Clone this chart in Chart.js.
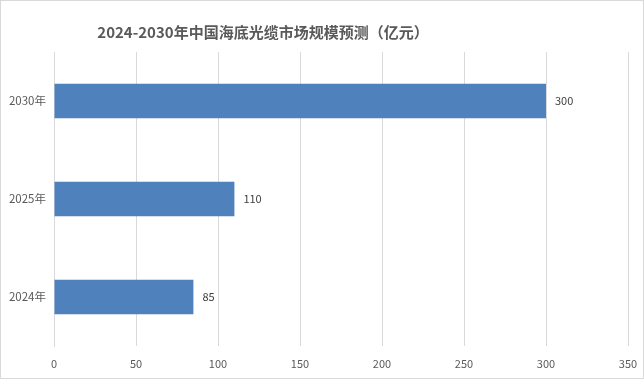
<!DOCTYPE html>
<html>
<head>
<meta charset="utf-8">
<script src="https://cdn.jsdelivr.net/npm/chart.js@4"></script>
<style>
html,body{margin:0;padding:0;background:#fff;}
#wrap{width:644px;height:379px;position:relative;}
</style>
</head>
<body>
<div id="wrap"><canvas id="c" width="644" height="379"></canvas></div>
<script>
const titleText = "2024-2030年中国海底光缆市场规模预测（亿元）";
const categories = ["2030年", "2025年", "2024年"];
const values = [300, 110, 85];
const xTicks = [0, 50, 100, 150, 200, 250, 300, 350];

const FONT = "'Noto Sans CJK SC', 'Noto Sans', sans-serif";

const decor = {
  id: 'decor',
  beforeDraw(chart) {
    const ctx = chart.ctx;
    ctx.save();
    ctx.fillStyle = '#ffffff';
    ctx.fillRect(0, 0, chart.width, chart.height);
    ctx.restore();
  },
  afterDraw(chart) {
    const ctx = chart.ctx;
    ctx.save();
    // border
    ctx.strokeStyle = '#d9d9d9';
    ctx.lineWidth = 1;
    ctx.strokeRect(0.5, 0.5, chart.width - 1, chart.height - 1);
    // title
    ctx.fillStyle = '#595959';
    ctx.font = "bold 15px " + FONT;
    ctx.textAlign = 'center';
    ctx.textBaseline = 'middle';
    ctx.fillText(titleText, 263, 32);
    // data labels
    const meta = chart.getDatasetMeta(0);
    ctx.fillStyle = '#404040';
    ctx.font = "11px " + FONT;
    ctx.textAlign = 'left';
    meta.data.forEach((bar, i) => {
      ctx.fillText(String(values[i]), bar.x + 9, bar.y);
    });
    ctx.restore();
  }
};

new Chart(document.getElementById('c'), {
  type: 'bar',
  data: {
    labels: categories,
    datasets: [{
      data: values,
      backgroundColor: '#4f81bd',
      borderWidth: 0,
      categoryPercentage: 1.0,
      barPercentage: 0.35
    }]
  },
  options: {
    indexAxis: 'y',
    responsive: false,
    animation: false,
    devicePixelRatio: 1,
    layout: { padding: { top: 52, right: 16, left: 0, bottom: 0 } },
    plugins: {
      legend: { display: false },
      title: { display: false },
      tooltip: { enabled: false }
    },
    scales: {
      x: {
        min: 0, max: 350,
        afterBuildTicks(scale) { scale.ticks = xTicks.map(v => ({ value: v })); },
        afterFit(scale) { scale.height = 33; scale.paddingRight = 0; scale.paddingLeft = 0; },
        grid: { color: '#d9d9d9', drawTicks: false, lineWidth: 1 },
        border: { display: false },
        ticks: { color: '#595959', font: { family: FONT, size: 11 }, padding: 11 }
      },
      y: {
        afterFit(scale) { scale.width = 54; },
        grid: { display: false, drawTicks: false },
        border: { display: true, color: '#d9d9d9' },
        ticks: { color: '#595959', font: { family: FONT, size: 11.5 }, padding: 8 }
      }
    }
  },
  plugins: [decor]
});
</script>
</body>
</html>
